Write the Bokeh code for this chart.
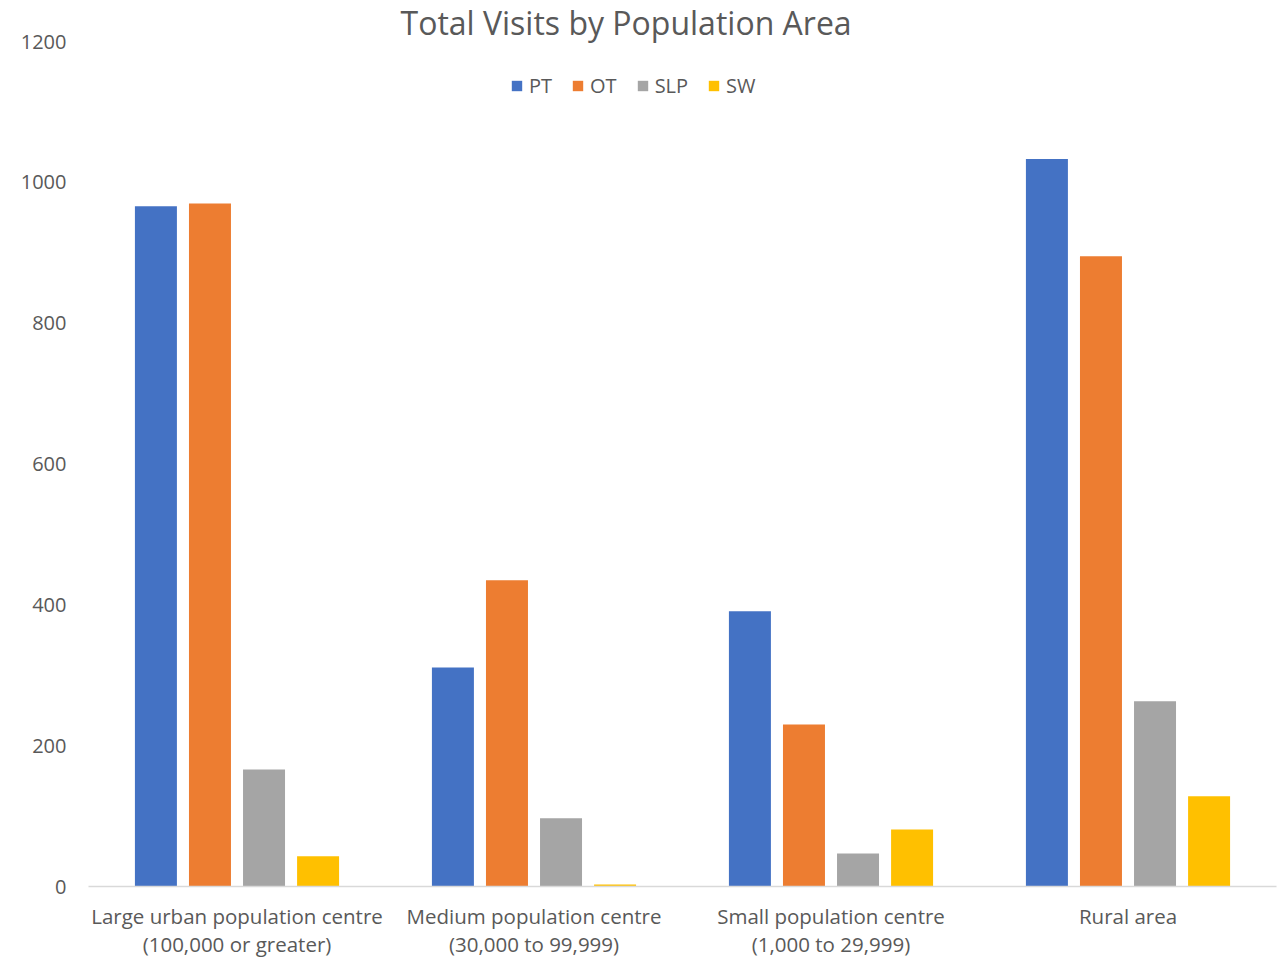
from bokeh.plotting import figure
from bokeh.models import ColumnDataSource, FactorRange, Range1d, FixedTicker, Legend, LegendItem
from bokeh.transform import dodge
from bokeh.embed import file_html
from bokeh.resources import INLINE

categories = ["Large urban population centre\n(100,000 or greater)",
              "Medium population centre\n(30,000 to 99,999)",
              "Small population centre\n(1,000 to 29,999)",
              "Rural area"]
series = ["PT", "OT", "SLP", "SW"]
pt = [966, 311, 391, 1033]
ot = [970, 435, 230, 895]
slp = [166, 97, 47, 263]
sw = [43, 3, 81, 128]
colors = ["#4472C4", "#ED7D31", "#A5A5A5", "#FFC000"]
y_ticks = [0, 200, 400, 600, 800, 1000, 1200]

FONT = "Open Sans"
TXT = "#595959"

src = ColumnDataSource(dict(cat=categories, PT=pt, OT=ot, SLP=slp, SW=sw))

p = figure(width=1288, height=960, x_range=FactorRange(*categories, range_padding=0),
           y_range=Range1d(0, 1200), output_backend="svg", toolbar_location=None,
           min_border_left=88, min_border_right=12, min_border_top=41, min_border_bottom=74,
           title="Total Visits by Population Area")
p.title.align = "left"
p.title.offset = 312
p.title.text_font = FONT
p.title.text_font_size = "32px"
p.title.text_font_style = "normal"
p.title.text_color = TXT
p.title.standoff = -4
p.outline_line_color = None
p.xgrid.grid_line_color = None
p.ygrid.grid_line_color = None
p.background_fill_color = "white"
p.border_fill_color = "white"

offsets = [-0.273, -0.091, 0.091, 0.273]
renderers = []
for s, off, c in zip(series, offsets, colors):
    r = p.vbar(x=dodge("cat", off, range=p.x_range), top=s, width=0.1414, source=src,
               fill_color=c, line_color=None)
    renderers.append(r)

p.yaxis.ticker = FixedTicker(ticks=y_ticks)
p.yaxis.axis_line_color = None
p.yaxis.major_tick_line_color = None
p.yaxis.minor_tick_line_color = None
p.yaxis.major_label_standoff = 16
p.yaxis.major_label_text_font = FONT
p.yaxis.major_label_text_font_size = "20px"
p.yaxis.major_label_text_color = TXT

p.xaxis.axis_line_color = "#D9D9D9"
p.xaxis.axis_line_width = 1.5
p.xaxis.major_tick_line_color = None
p.xaxis.minor_tick_line_color = None
p.xaxis.major_label_standoff = 9
p.xaxis.major_label_text_font = FONT
p.xaxis.major_label_text_font_size = "20.5px"
p.xaxis.major_label_text_color = TXT
p.xaxis.major_label_text_line_height = 1.0

legend = Legend(items=[LegendItem(label=s, renderers=[r]) for s, r in zip(series, renderers)],
                orientation="horizontal", location=(422, 787),
                glyph_width=13, glyph_height=13, label_standoff=6, spacing=19,
                padding=0, margin=0, border_line_color=None, background_fill_alpha=0,
                label_text_font=FONT, label_text_font_size="20px", label_text_color=TXT)
p.add_layout(legend, "center")

open("out.html", "w").write(file_html(p, INLINE))
